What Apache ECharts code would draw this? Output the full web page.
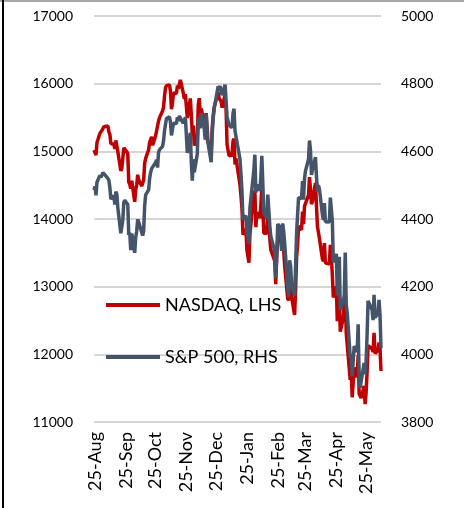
<!DOCTYPE html>
<html>
<head>
<meta charset="utf-8">
<script src="https://cdn.jsdelivr.net/npm/echarts@6/dist/echarts.min.js"></script>
<style>html,body{margin:0;padding:0;background:#fff}#c{width:464px;height:508px}</style>
</head>
<body>
<div id="c"></div>
<script>
const dates = ['2021-08-24','2021-08-25','2021-08-26','2021-08-27','2021-08-30','2021-08-31','2021-09-01','2021-09-02','2021-09-03','2021-09-07','2021-09-08','2021-09-09','2021-09-10','2021-09-13','2021-09-14','2021-09-15','2021-09-16','2021-09-17','2021-09-20','2021-09-21','2021-09-22','2021-09-23','2021-09-24','2021-09-27','2021-09-28','2021-09-29','2021-09-30','2021-10-01','2021-10-04','2021-10-05','2021-10-06','2021-10-07','2021-10-08','2021-10-11','2021-10-12','2021-10-13','2021-10-14','2021-10-15','2021-10-18','2021-10-19','2021-10-20','2021-10-21','2021-10-22','2021-10-25','2021-10-26','2021-10-27','2021-10-28','2021-10-29','2021-11-01','2021-11-02','2021-11-03','2021-11-04','2021-11-05','2021-11-08','2021-11-09','2021-11-10','2021-11-11','2021-11-12','2021-11-15','2021-11-16','2021-11-17','2021-11-18','2021-11-19','2021-11-22','2021-11-23','2021-11-24','2021-11-26','2021-11-29','2021-11-30','2021-12-01','2021-12-02','2021-12-03','2021-12-06','2021-12-07','2021-12-08','2021-12-09','2021-12-10','2021-12-13','2021-12-14','2021-12-15','2021-12-16','2021-12-17','2021-12-20','2021-12-21','2021-12-22','2021-12-23','2021-12-27','2021-12-28','2021-12-29','2021-12-30','2021-12-31','2022-01-03','2022-01-04','2022-01-05','2022-01-06','2022-01-07','2022-01-10','2022-01-11','2022-01-12','2022-01-13','2022-01-14','2022-01-18','2022-01-19','2022-01-20','2022-01-21','2022-01-24','2022-01-25','2022-01-26','2022-01-27','2022-01-28','2022-01-31','2022-02-01','2022-02-02','2022-02-03','2022-02-04','2022-02-07','2022-02-08','2022-02-09','2022-02-10','2022-02-11','2022-02-14','2022-02-15','2022-02-16','2022-02-17','2022-02-18','2022-02-22','2022-02-23','2022-02-24','2022-02-25','2022-02-28','2022-03-01','2022-03-02','2022-03-03','2022-03-04','2022-03-07','2022-03-08','2022-03-09','2022-03-10','2022-03-11','2022-03-14','2022-03-15','2022-03-16','2022-03-17','2022-03-18','2022-03-21','2022-03-22','2022-03-23','2022-03-24','2022-03-25','2022-03-28','2022-03-29','2022-03-30','2022-03-31','2022-04-01','2022-04-04','2022-04-05','2022-04-06','2022-04-07','2022-04-08','2022-04-11','2022-04-12','2022-04-13','2022-04-14','2022-04-18','2022-04-19','2022-04-20','2022-04-21','2022-04-22','2022-04-25','2022-04-26','2022-04-27','2022-04-28','2022-04-29','2022-05-02','2022-05-03','2022-05-04','2022-05-05','2022-05-06','2022-05-09','2022-05-10','2022-05-11','2022-05-12','2022-05-13','2022-05-16','2022-05-17','2022-05-18','2022-05-19','2022-05-20','2022-05-23','2022-05-24','2022-05-25','2022-05-26','2022-05-27','2022-05-31','2022-06-01','2022-06-02','2022-06-03','2022-06-06','2022-06-07','2022-06-08','2022-06-09'];

const nasdaq = [15019,15042,14946,15130,15266,15259,15310,15331,15364,15374,15287,15248,15115,15106,15037,15162,15182,14994,14714,14747,14897,15052,15048,14970,14547,14512,14449,14567,14255,14434,14502,14654,14580,14486,14465,14572,14823,14897,15022,15129,15122,15216,15090,15227,15236,15236,15448,15498,15596,15650,15812,15940,15971,15982,15887,15623,15705,15861,15853,15974,15921,15993,16057,15855,15775,15845,15491,15782,15538,15254,15381,15085,15225,15687,15786,15518,15631,15413,15237,15566,15180,15170,14981,15341,15522,15653,15871,15782,15767,15741,15645,15833,15622,15100,15081,14936,14943,15153,15189,14806,14894,14507,14341,14155,13769,13856,13540,13542,13353,13771,14240,14346,14418,13879,14098,14015,14194,14491,14186,13791,13790,14139,14124,13717,13548,13381,13038,13474,13695,13751,13532,13752,13538,13313,12831,12796,13256,13130,12844,12581,12949,13437,13615,13894,13838,14109,13923,14191,14169,14354,14620,14442,14221,14261,14533,14204,13888,13897,13711,13412,13372,13644,13351,13332,13619,13453,13175,12840,13004,12491,12489,12872,12335,12536,12564,12965,12318,12145,11623,11738,11365,11371,11805,11663,11985,11418,11389,11355,11535,11265,11435,11741,12131,12081,12033,12317,12013,12061,12175,12087,11754];

const sp500 = [4486,4496,4470,4509,4529,4523,4524,4537,4535,4520,4514,4493,4459,4469,4443,4481,4474,4433,4358,4354,4396,4449,4455,4443,4353,4360,4308,4357,4300,4346,4364,4399,4391,4361,4351,4364,4438,4471,4486,4520,4537,4549,4545,4567,4575,4552,4597,4605,4614,4631,4660,4680,4697,4702,4686,4647,4649,4683,4682,4701,4689,4705,4698,4683,4691,4701,4595,4655,4567,4513,4577,4538,4592,4687,4701,4668,4712,4669,4635,4710,4669,4621,4568,4649,4697,4726,4792,4786,4793,4778,4766,4797,4794,4701,4696,4677,4670,4713,4726,4660,4663,4577,4533,4483,4398,4410,4357,4350,4327,4432,4516,4546,4590,4478,4501,4484,4522,4587,4504,4419,4402,4472,4476,4381,4349,4305,4226,4288,4385,4374,4306,4387,4364,4329,4201,4171,4278,4260,4204,4173,4263,4358,4412,4463,4461,4512,4457,4520,4543,4576,4632,4603,4530,4546,4583,4526,4481,4500,4488,4413,4397,4447,4392,4391,4463,4460,4394,4272,4297,4175,4183,4288,4132,4155,4175,4301,4147,4123,3991,4001,3935,3930,4024,4008,4089,3924,3901,3901,3974,3941,3979,4058,4158,4132,4101,4176,4109,4121,4161,4116,4018];

const tickDates = ['2021-08-25','2021-09-25','2021-10-25','2021-11-25','2021-12-25','2022-01-25','2022-02-25','2022-03-25','2022-04-25','2022-05-25'];
const tickLabels = ['25-Aug','25-Sep','25-Oct','25-Nov','25-Dec','25-Jan','25-Feb','25-Mar','25-Apr','25-May'];
const seriesNames = ['NASDAQ, LHS','S&P 500, RHS'];

const DAY = 86400000;
function dayNum(s){const p=s.split('-').map(Number);return Math.round(Date.UTC(p[0],p[1]-1,p[2])/DAY);}
const tickDays = tickDates.map(dayNum);
const labelMap = {};
tickDays.forEach((t,i)=>{labelMap[t]=tickLabels[i];});

const chart = echarts.init(document.getElementById('c'), null, {renderer:'canvas'});
const font = 'Lato, "Open Sans", sans-serif';
chart.setOption({
  animation:false,
  backgroundColor:'#fff',
  grid:{left:94,right:83,top:16,bottom:86,containLabel:false},
  graphic:[
    {type:'rect',left:0,top:0,shape:{width:464,height:2},style:{fill:'#a6a6a6'},z:100},
    {type:'rect',left:2,top:0,shape:{width:2,height:508},style:{fill:'#000'},z:100}
  ],
  legend:[
    {data:[seriesNames[0]],left:101,top:291,icon:'rect',itemWidth:54,itemHeight:4,itemGap:5,
     textStyle:{fontFamily:font,fontSize:18,color:'#000'}},
    {data:[seriesNames[1]],left:101,top:343,icon:'rect',itemWidth:54,itemHeight:4,itemGap:5,
     textStyle:{fontFamily:font,fontSize:18,color:'#000'}}
  ],
  xAxis:{
    type:'value',
    min:dayNum(dates[0]), max:dayNum(dates[dates.length-1]),
    axisLine:{show:false},
    axisTick:{show:false},
    splitLine:{show:false},
    axisLabel:{
      customValues:tickDays,
      rotate:90, margin:10,
      fontFamily:font, fontSize:18, color:'#000',
      formatter:function(v){return labelMap[Math.round(v)]!==undefined?labelMap[Math.round(v)]:'';}
    }
  },
  yAxis:[
    {type:'value',min:11000,max:17000,interval:1000,position:'left',
     axisLine:{show:false},axisTick:{show:false},
     splitLine:{show:true,lineStyle:{color:'#c8c8c8',width:1.5}},
     axisLabel:{margin:21,fontFamily:font,fontSize:14,color:'#000',formatter:function(v){return String(v);}}},
    {type:'value',min:3800,max:5000,interval:200,position:'right',
     axisLine:{show:false},axisTick:{show:false},splitLine:{show:false},
     axisLabel:{margin:20,fontFamily:font,fontSize:14,color:'#000',formatter:function(v){return String(v);}}}
  ],
  series:[
    {name:seriesNames[0],type:'line',yAxisIndex:0,showSymbol:false,symbol:'none',
     data:dates.map((d,i)=>[dayNum(d),nasdaq[i]]),
     itemStyle:{color:'#c00000'},lineStyle:{color:'#c00000',width:3.5},z:2},
    {name:seriesNames[1],type:'line',yAxisIndex:1,showSymbol:false,symbol:'none',
     data:dates.map((d,i)=>[dayNum(d),sp500[i]]),
     itemStyle:{color:'#44546a'},lineStyle:{color:'#44546a',width:3.5},z:3}
  ]
});
</script>
</body>
</html>
